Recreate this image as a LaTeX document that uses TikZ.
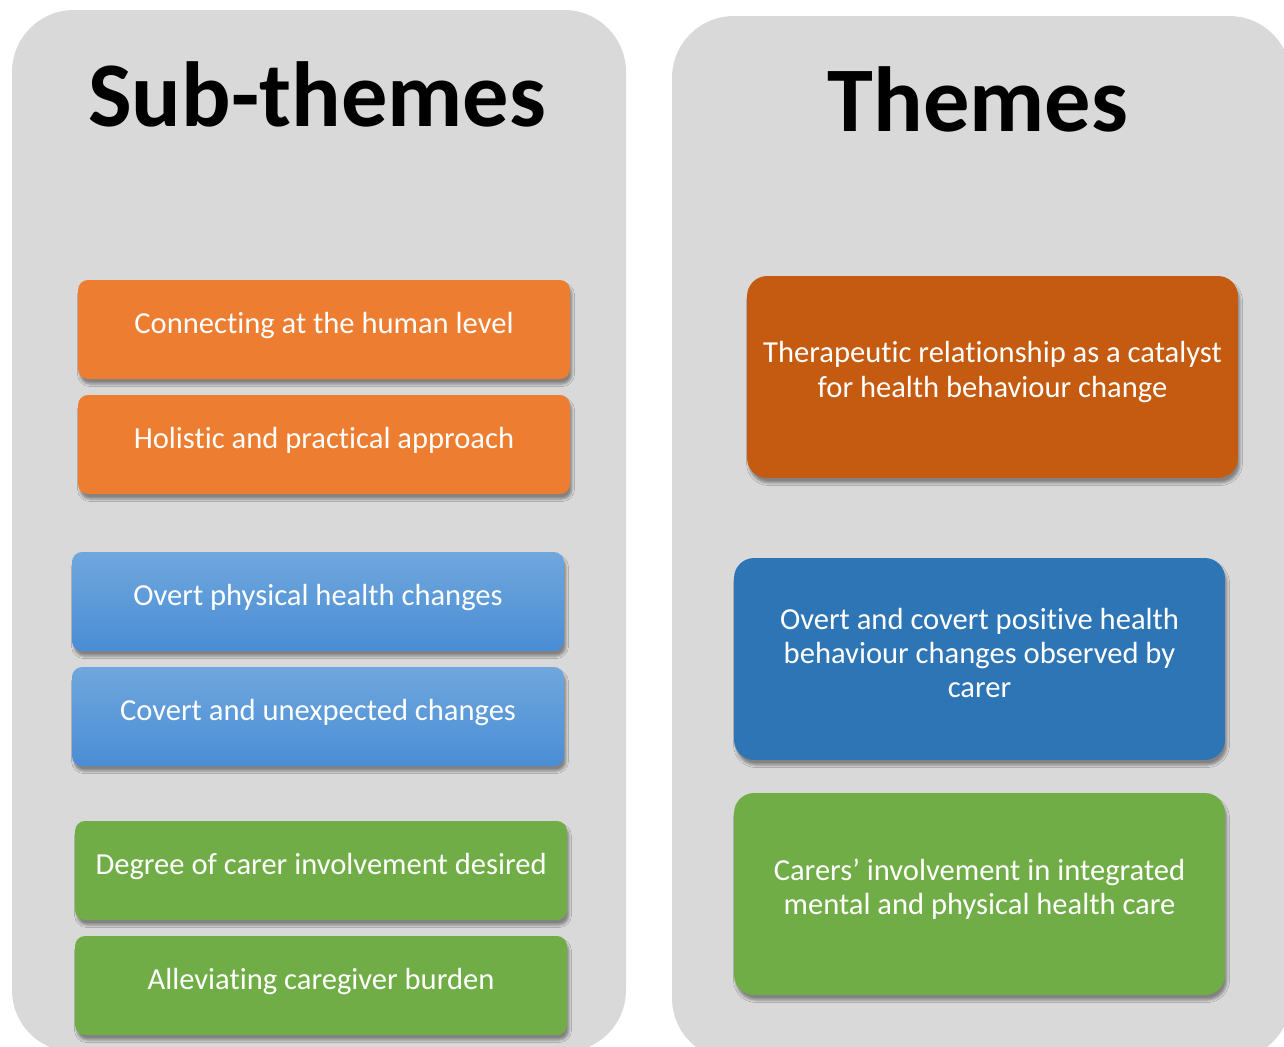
\documentclass[tikz,border=0pt]{standalone}
\usepackage{fontspec}
\setmainfont{Carlito}[Ligatures=NoCommon]
\usepackage{xcolor}
\usepackage{tikz}
\usetikzlibrary{shadows.blur}

\definecolor{panelgrey}{HTML}{D9D9D9}
\definecolor{subor}{HTML}{ED7D31}
\definecolor{themeor}{HTML}{C55A11}
\definecolor{subbluetop}{HTML}{6FA7DD}
\definecolor{subbluebot}{HTML}{4A8DD5}
\definecolor{themeblue}{HTML}{2E75B6}
\definecolor{grn}{HTML}{70AD47}

\begin{document}
\begin{tikzpicture}[x=0.02cm,y=-0.02cm,
  panel/.style={fill=panelgrey,rounded corners=1.24cm},
  subbox/.style={rounded corners=0.2cm,minimum width=9.84cm,minimum height=1.98cm,
    blur shadow={shadow xshift=0.04cm,shadow yshift=-0.1cm,shadow blur radius=0.05cm,shadow opacity=40}},
  themebox/.style={subbox,rounded corners=0.4cm,minimum width=9.82cm,minimum height=4.04cm},
  boxtext/.style={text=white,align=center,font=\fontsize{17.4}{19.4}\selectfont},
  title/.style={font=\fontsize{52.6}{60}\selectfont\bfseries}]
\path[use as bounding box] (0,0) rectangle (1284,1046);
\clip (0,0) rectangle (1284,1046);

% panels
\path[panel] (12,10) rectangle (626,1052);
\path[panel] (672,16) rectangle (1291,1060);
\node[title] (sub) at (317,94) {Sub-themes};
\node[title] (thm) at (978,99) {Themes};

% sub-themes
\node[subbox,fill=subor] (s1) at (324,329.5) {};
\node[boxtext] (s1t) at ([yshift=0.08cm]s1.center) {Connecting at the human level};
\node[subbox,fill=subor] (s2) at (324,444.5) {};
\node[boxtext] (s2t) at ([yshift=0.08cm]s2.center) {Holistic and practical approach};
\node[subbox,top color=subbluetop,bottom color=subbluebot] (s3) at (318,601.5) {};
\node[boxtext] (s3t) at ([yshift=0.08cm]s3.center) {Overt physical health changes};
\node[subbox,top color=subbluetop,bottom color=subbluebot] (s4) at (318,716.5) {};
\node[boxtext] (s4t) at ([yshift=0.08cm]s4.center) {Covert and unexpected changes};
\node[subbox,fill=grn] (s5) at (321,870.5) {};
\node[boxtext] (s5t) at ([yshift=0.08cm]s5.center) {Degree of carer involvement desired};
\node[subbox,fill=grn] (s6) at (321,985.5) {};
\node[boxtext] (s6t) at ([yshift=0.08cm]s6.center) {Alleviating caregiver burden};

% themes
\node[themebox,fill=themeor] (t1) at (992.5,377) {};
\node[boxtext] (t1t) at ([yshift=0.1cm]t1.center) {Therapeutic relationship as a catalyst\\for health behaviour change};
\node[themebox,fill=themeblue] (t2) at (979.5,659) {};
\node[boxtext] (t2t) at ([yshift=0.12cm]t2.center) {Overt and covert positive health\\behaviour changes observed by\\carer};
\node[themebox,fill=grn] (t3) at (979.5,894) {};
\node[boxtext] (t3t) at ([yshift=0.1cm]t3.center) {Carers’ involvement in integrated\\mental and physical health care};
\end{tikzpicture}
\end{document}
